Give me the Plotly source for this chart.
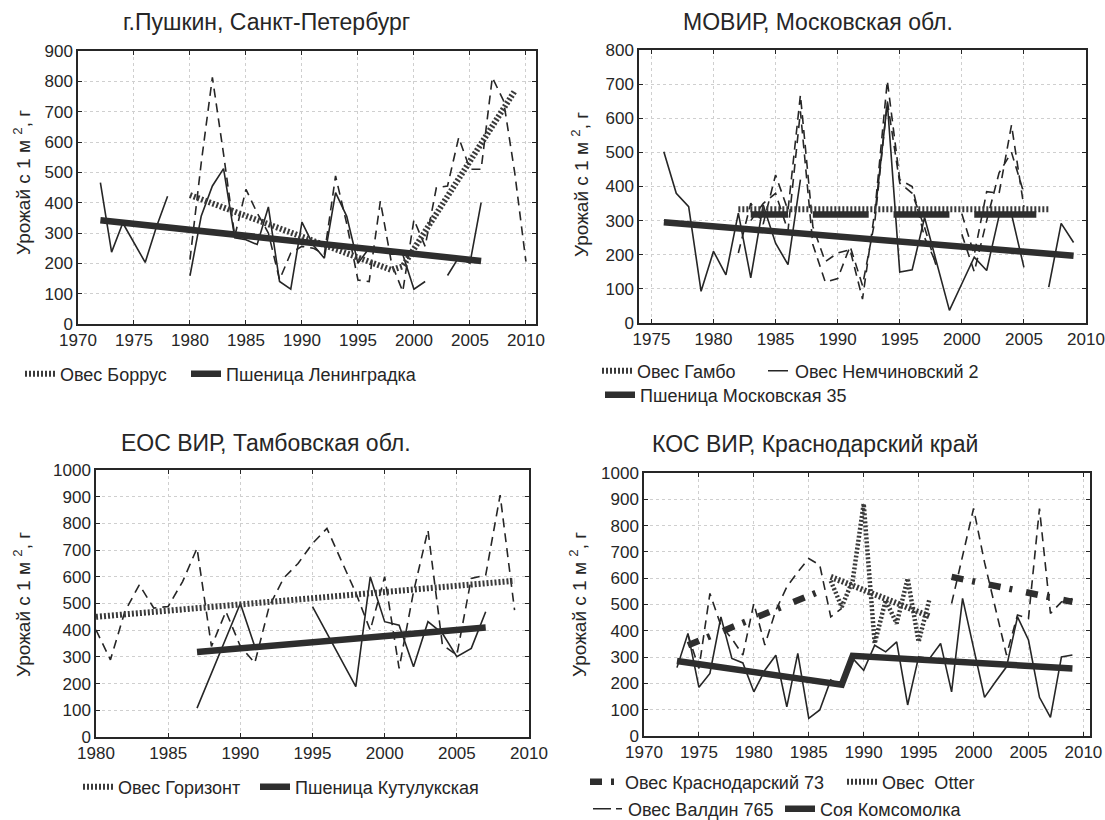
import plotly.graph_objects as go

W, H = 1105, 820

# ---------------- DATA ----------------
# Panel 1: г.Пушкин, Санкт-Петербург
p1_wheat_x = list(range(1972, 2007))
p1_wheat_y = [466, 237, 333, 270, 203, 320, 421, None, 159, 355, 455, 512, 284, 278, 262, 386,
              140, 115, 336, 260, 217, 433, 355, 200, 250, 250, 230, 230, 115, 140, None, 160,
              220, 200, 400]
p1_oat_x = list(range(1980, 2011))
p1_oat_y = [212, 530, 813, 560, 289, 444, 366, 300, 146, 234, 256, 250, 230, 488, 330, 145,
            140, 405, 200, 107, 344, 256, 449, 455, 615, 510, 510, 813, 736, 499, 206]
p1_oat_trend_x = [1980, 1998, 1999, 2009]
p1_oat_trend_y = [425, 178, 190, 768]
p1_wheat_trend_x = [1972, 2006]
p1_wheat_trend_y = [342, 208]

# Panel 2: МОВИР, Московская обл.
p2_wheat_x = list(range(1976, 2010))
p2_wheat_y = [502, 380, 341, 93, 210, 141, 322, 132, 346, 234, 171, 420, None, None, None, None,
              None, 320, 645, 149, 156, 309, 170, 37, 115, 193, 154, 314, 319, 163, None, 105,
              292, 236]
p2_gambo_x = list(range(1982, 2006))
p2_gambo_y = [205, 351, 290, 434, 330, 668, 283, 180, 205, 215, 70, 330, 710, 420, 400, 250,
              170, None, 320, 200, 385, 380, 580, 340]
p2_nemch_x = list(range(1983, 2006))
p2_nemch_y = [300, 350, 380, 270, 620, 230, 120, 130, 225, 110, 300, 650, 410, 380, 280, 160,
              None, 260, 150, 300, 440, 500, 380]
p2_gambo_trend_x = [1982, 2007]
p2_gambo_trend_y = [333, 333]
p2_nemch_trend_x = [1983, 1986, None, 1988, 1992.5, None, 1994.5, 1999, None, 2001, 2006]
p2_nemch_trend_y = [318, 318, None, 318, 318, None, 318, 318, None, 318, 318]
p2_wheat_trend_x = [1976, 2009]
p2_wheat_trend_y = [295, 197]

# Panel 3: ЕОС ВИР, Тамбовская обл.
p3_oat_x = list(range(1980, 2010))
p3_oat_y = [401, 289, 470, 570, 483, 489, 582, 707, 339, 470, 340, 277, 489, 595, 650, 725,
            781, 663, 540, 400, 600, 257, 544, 775, 345, 307, 594, 606, 906, 475]
p3_wheat_x = [1987, 1990, 1991, 1993, 1995, 1996, 1997, 1998, 1999, 2000, 2001, 2002, 2003,
              2004, 2005, 2006, 2007]
p3_wheat_y = [108, 500, 339, None, 488, 390, 290, 189, 600, 432, 419, 263, 432, 388, 301, 332, 469]
p3_oat_trend_x = [1980, 2009]
p3_oat_trend_y = [450, 585]
p3_wheat_trend_x = [1987, 2007]
p3_wheat_trend_y = [318, 410]

# Panel 4: КОС ВИР, Краснодарский край
p4_valdin_x = list(range(1973, 2010))
p4_valdin_y = [260, 390, 185, 238, 453, 295, 278, 168, 250, 307, 111, 314, 67, 99, 213, 190,
               295, 250, 345, 320, 358, 118, 301, 295, 352, 168, 523, 335, 147, 206, 263, 453,
               365, 147, 71, 301, 308]
p4_kr73_x = list(range(1974, 2010))
p4_kr73_y = [385, 257, 542, 420, 370, 308, 504, 346, 478, 567, 624, 675, 650, 453, 485,
             None, None, None, None, None, None, None, None, None,
             504, 685, 865, 660, 480, 308, 460, 447, 865, 466, 510, 523]
p4_otter_x = list(range(1987, 1997))
p4_otter_y = [590, 491, 592, 883, 352, 516, 428, 599, 358, 523]
p4_kr73_trend_x = [1974, 1986, None, 1998, 2009]
p4_kr73_trend_y = [345, 550, None, 605, 510]
p4_otter_trend_x = [1987, 1996]
p4_otter_trend_y = [605, 455]
p4_soy_trend_x = [1973, 1988, 1989, 2009]
p4_soy_trend_y = [285, 195, 305, 257]

titles = ["г.Пушкин, Санкт-Петербург", "МОВИР, Московская обл.",
          "ЕОС ВИР, Тамбовская обл.", "КОС ВИР, Краснодарский край"]
ytitle = "Урожай с 1 м <sup>2</sup>, г"

# ---------------- STYLES ----------------
INK = "#262626"
FONT = "Liberation Sans, Arial, sans-serif"
thin = dict(color=INK, width=1.6)
dashed = dict(color=INK, width=1.6, dash="9px,6px")
hatch = dict(color="#3a3a3a", width=6, dash="2px,2px")
thick = dict(color="#2e2e2e", width=6.5)


def px(x):
    return x / W


def py(y):
    return 1 - y / H


fig = go.Figure()


def add(x, y, ax, line, name=None, legend=None):
    fig.add_trace(go.Scatter(
        x=x, y=y, mode="lines", line=line, xaxis="x" + ax, yaxis="y" + ax,
        name=name or "", showlegend=legend is not None, legend=legend or "legend",
        connectgaps=False, hoverinfo="skip"))


# Panel 1
add(p1_wheat_x, p1_wheat_y, "", thin)
add(p1_oat_x, p1_oat_y, "", dashed)
add(p1_oat_trend_x, p1_oat_trend_y, "", hatch, "Овес Боррус", "legend")
add(p1_wheat_trend_x, p1_wheat_trend_y, "", thick, "Пшеница Ленинградка", "legend2")

# Panel 2
add(p2_wheat_x, p2_wheat_y, "2", thin)
add(p2_gambo_x, p2_gambo_y, "2", dashed)
add(p2_nemch_x, p2_nemch_y, "2", dashed)
add(p2_gambo_trend_x, p2_gambo_trend_y, "2", hatch, "Овес Гамбо", "legend3")
add(p2_nemch_trend_x, p2_nemch_trend_y, "2", thick)
add([None], [None], "2", dict(color=INK, width=1.5, dash="0px,8px,20px,100px"),
    "Овес Немчиновский 2", "legend4")
add(p2_wheat_trend_x, p2_wheat_trend_y, "2", thick, "Пшеница Московская 35", "legend5")

# Panel 3
add(p3_wheat_x, p3_wheat_y, "3", thin)
add(p3_oat_x, p3_oat_y, "3", dashed)
add(p3_oat_trend_x, p3_oat_trend_y, "3", hatch, "Овес Горизонт", "legend6")
add(p3_wheat_trend_x, p3_wheat_trend_y, "3", thick, "Пшеница Кутулукская", "legend7")

# Panel 4
add(p4_valdin_x, p4_valdin_y, "4", thin)
add(p4_kr73_x, p4_kr73_y, "4", dashed)
add(p4_otter_x, p4_otter_y, "4", dict(color="#3a3a3a", width=4.5, dash="2px,2px"))
add(p4_kr73_trend_x, p4_kr73_trend_y, "4",
    dict(color="#2e2e2e", width=6.5, dash="12px,9px,3px,14px"), "Овес Краснодарский 73", "legend8")
add(p4_otter_trend_x, p4_otter_trend_y, "4", hatch, "Овес  Otter", "legend9")
add([None], [None], "4", dict(color=INK, width=1.5, dash="18px,5px,6px,40px"),
    "Овес Валдин 765", "legend10")
add(p4_soy_trend_x, p4_soy_trend_y, "4", thick, "Соя Комсомолка", "legend11")

# ---------------- AXES ----------------
panels = [
    ("", 78, 536, 51, 324, [1970, 2010.9], [0, 900]),
    ("2", 639, 1086, 50, 323, [1974, 2010], [0, 800]),
    ("3", 96, 529, 470, 737, [1980, 2010], [0, 1000]),
    ("4", 644, 1090, 473, 736, [1970, 2010.6], [0, 1000]),
]
axis_common = dict(showline=True, linecolor=INK, linewidth=1.5, mirror="allticks",
                   ticks="inside", ticklen=4, tickcolor=INK, tickwidth=1,
                   showgrid=True, gridcolor="#cfcfcf", griddash="dot", gridwidth=1,
                   zeroline=False, automargin=False,
                   tickfont=dict(family=FONT, size=17, color=INK))
layout = dict(width=W, height=H, margin=dict(l=0, r=0, t=0, b=0, autoexpand=False),
              template="none",
              paper_bgcolor="white", plot_bgcolor="white", font=dict(family=FONT, color=INK))
for i, (s, x0, x1, yt, yb, xr, yr) in enumerate(panels):
    layout["xaxis" + s] = dict(axis_common, domain=[px(x0), px(x1)], range=xr,
                               anchor="y" + s, tick0=1970, dtick=5)
    layout["yaxis" + s] = dict(axis_common, domain=[py(yb), py(yt)], range=yr,
                               anchor="x" + s, dtick=100)

fig.update_layout(**layout)

# titles and y titles
title_pos = [(266, 22), (818, 22), (266, 443), (815, 444)]
ytitle_pos = [(22, 183), (580, 185), (22, 605), (578, 605)]
for t, (tx, ty), (yx, yy) in zip(titles, title_pos, ytitle_pos):
    fig.add_annotation(text=t, x=px(tx), y=py(ty), xref="paper", yref="paper",
                       xanchor="center", yanchor="middle",
                       showarrow=False, font=dict(family=FONT, size=23, color=INK))
    fig.add_annotation(text=ytitle, x=px(yx), y=py(yy), xref="paper", yref="paper",
                       xanchor="center", yanchor="middle",
                       showarrow=False, textangle=-90,
                       font=dict(family=FONT, size=19, color=INK))

# legends, one per entry: (text start px, y center px)
leg_pos = {
    "legend": (60, 374), "legend2": (226, 374),
    "legend3": (637, 371), "legend4": (795, 371), "legend5": (640, 395),
    "legend6": (118, 787), "legend7": (295, 787),
    "legend8": (625, 782), "legend9": (882, 782),
    "legend10": (628, 809), "legend11": (820, 809),
}
for k, (lx, ly) in leg_pos.items():
    fig.update_layout({k: dict(x=max(px(lx - 40), 0), y=py(ly), xanchor="left", yanchor="middle",
                               orientation="h", bgcolor="rgba(0,0,0,0)", borderwidth=0,
                               font=dict(family=FONT, size=18, color=INK),
                               itemwidth=30, tracegroupgap=0)})

fig.write_html("out.html")
